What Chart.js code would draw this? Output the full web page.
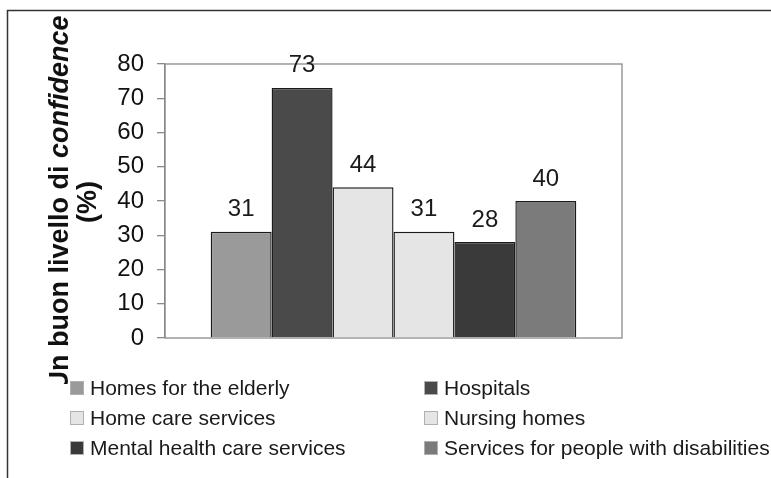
<!DOCTYPE html>
<html>
<head>
<meta charset="utf-8">
<script src="https://cdn.jsdelivr.net/npm/chart.js@4/dist/chart.umd.min.js"></script>
<style>
  html, body { margin: 0; padding: 0; background: #fff; }
  canvas { display: block; }
</style>
</head>
<body>
<canvas id="c" width="771" height="478"></canvas>
<script>
// ---- data ----
const categories = [''];
const seriesNames = [
  'Homes for the elderly',
  'Hospitals',
  'Home care services',
  'Nursing homes',
  'Mental health care services',
  'Services for people with disabilities'
];
const seriesValues = [31, 73, 44, 31, 28, 40];
const yTickValues = [0, 10, 20, 30, 40, 50, 60, 70, 80];
const titleMain = 'Un buon livello di ';
const titleItalic = 'confidence';
const titleLine2 = '(%)';

// ---- styles ----
const seriesColors = ['#9a9a9a', '#4a4a4a', '#e5e5e5', '#e5e5e5', '#3a3a3a', '#7b7b7b'];
const FONT = '"Liberation Sans", Arial, sans-serif';

const datasets = seriesNames.map((name, i) => ({
  label: name,
  data: [seriesValues[i]],
  backgroundColor: seriesColors[i],
  borderColor: '#1a1a1a',
  borderWidth: 1.4,
  categoryPercentage: 0.8,
  barPercentage: 1.0
}));

const decorPlugin = {
  id: 'decor',
  beforeDatasetsDraw(chart) {
    const { ctx, chartArea: a } = chart;
    ctx.save();
    ctx.strokeStyle = '#8a8a8a';
    ctx.lineWidth = 1.3;
    ctx.strokeRect(a.left, a.top, a.right - a.left, a.bottom - a.top);
    ctx.restore();
  },
  afterDraw(chart) {
    const { ctx } = chart;
    ctx.save();
    // outer frame (top + left)
    ctx.strokeStyle = '#333';
    ctx.lineWidth = 1.5;
    ctx.beginPath();
    ctx.moveTo(771, 10.5);
    ctx.lineTo(7.5, 10.5);
    ctx.lineTo(7.5, 478);
    ctx.stroke();

    // value labels
    ctx.fillStyle = '#1a1a1a';
    ctx.font = '24px ' + FONT;
    ctx.textAlign = 'center';
    ctx.textBaseline = 'alphabetic';
    chart.data.datasets.forEach((ds, i) => {
      const meta = chart.getDatasetMeta(i);
      meta.data.forEach((bar, j) => {
        ctx.fillText(String(ds.data[j]), bar.x, bar.y - 15.5);
      });
    });

    // y-axis title (rotated, two lines, mixed style)
    ctx.fillStyle = '#111';
    ctx.textAlign = 'left';
    const fB = 'bold 27px ' + FONT;
    const fBI = 'italic bold 27px ' + FONT;
    ctx.font = fB; const w1 = ctx.measureText(titleMain).width;
    ctx.font = fBI; const w2 = ctx.measureText(titleItalic).width;
    ctx.save();
    ctx.translate(68, 203);
    ctx.rotate(-Math.PI / 2);
    const start = -(w1 + w2) / 2;
    ctx.font = fB; ctx.fillText(titleMain, start, 0);
    ctx.font = fBI; ctx.fillText(titleItalic, start + w1, 0);
    ctx.restore();
    ctx.save();
    ctx.translate(96, 202);
    ctx.rotate(-Math.PI / 2);
    ctx.font = fB;
    ctx.textAlign = 'center';
    ctx.fillText(titleLine2, 0, 0);
    ctx.restore();

    // legend background (covers the end of the title, as in the original)
    ctx.fillStyle = '#fff';
    ctx.fillRect(42, 384, 727, 86);

    // legend
    const colX = [70, 424];
    const baseY = 395, rowH = 30, box = 14;
    ctx.font = '21px ' + FONT;
    ctx.textAlign = 'left';
    chart.data.datasets.forEach((ds, i) => {
      const col = i % 2, row = Math.floor(i / 2);
      const x = colX[col], y = baseY + row * rowH;
      ctx.fillStyle = ds.backgroundColor;
      ctx.fillRect(x, y - box, box, box);
      ctx.strokeStyle = '#b0b0b0';
      ctx.lineWidth = 1;
      ctx.strokeRect(x + 0.5, y - box + 0.5, box - 1, box - 1);
      ctx.fillStyle = '#1a1a1a';
      ctx.fillText(ds.label, x + 20, y);
    });
    ctx.restore();
  }
};

new Chart(document.getElementById('c'), {
  type: 'bar',
  data: { labels: categories, datasets },
  options: {
    responsive: false,
    animation: false,
    layout: { padding: { left: 0, top: 64, right: 149, bottom: 140 } },
    plugins: { legend: { display: false }, tooltip: { enabled: false } },
    scales: {
      x: { display: false },
      y: {
        min: 0, max: 80,
        afterFit(scale) { scale.width = 165; },
        afterBuildTicks(scale) { scale.ticks = yTickValues.map(v => ({ value: v })); },
        ticks: { color: '#111', font: { family: FONT, size: 24 }, padding: 13 },
        grid: { drawOnChartArea: false, drawTicks: true, tickLength: 8, color: '#8a8a8a', lineWidth: 1.3 },
        border: { display: true, color: '#8a8a8a', width: 1.3 }
      }
    }
  },
  plugins: [decorPlugin]
});
</script>
</body>
</html>
